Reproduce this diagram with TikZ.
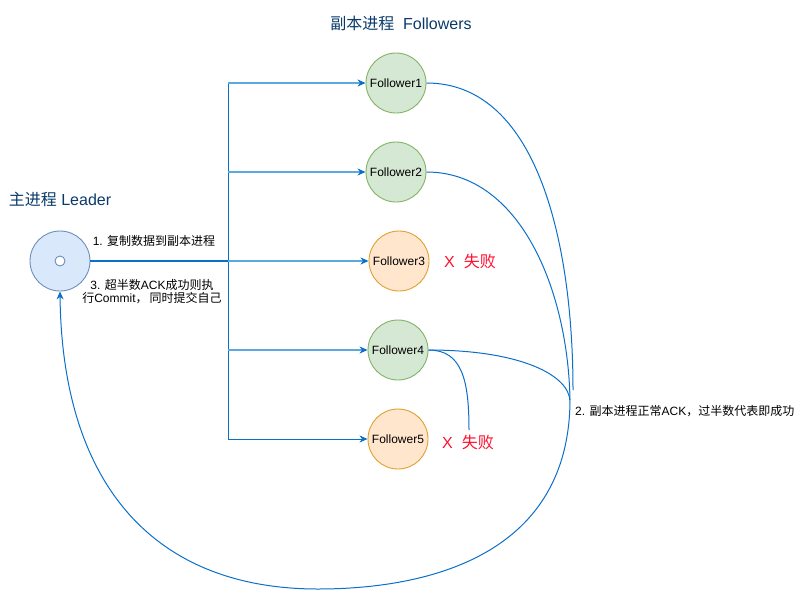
\documentclass[tikz,border=0pt]{standalone}
\usepackage{fontspec}
\setmainfont{Liberation Sans}
\newfontfamily\cjk{Noto Sans CJK SC}
\usetikzlibrary{arrows.meta}
\definecolor{edgeblue}{HTML}{0B6FC9}
\definecolor{lightedge}{HTML}{5AAAE0}
\definecolor{titleblue}{HTML}{0A3A6B}
\definecolor{gfill}{HTML}{D5E8D4}
\definecolor{gdraw}{HTML}{82B366}
\definecolor{ofill}{HTML}{FFE6CC}
\definecolor{odraw}{HTML}{E0A030}
\definecolor{bfill}{HTML}{DAE8FC}
\definecolor{bdraw}{HTML}{6C8EBF}
\definecolor{failred}{HTML}{FF1030}
\begin{document}
\begin{tikzpicture}[x=1pt,y=-1pt,
  okf/.style={circle,draw=gdraw,fill=gfill,line width=0.9pt,minimum size=60pt,inner sep=0pt,font=\fontsize{12}{14}\selectfont},
  badf/.style={circle,draw=odraw,fill=ofill,line width=0.9pt,minimum size=60pt,inner sep=0pt,font=\fontsize{12}{14}\selectfont},
  lead/.style={circle,draw=bdraw,fill=bfill,line width=0.9pt,minimum size=60pt,inner sep=0pt},
  hole/.style={circle,draw=bdraw,fill=white,line width=0.9pt,minimum size=10pt,inner sep=0pt},
  conn/.style={draw=edgeblue,line width=1pt},
  branch/.style={draw=lightedge,line width=1.2pt,-{Stealth[length=8pt,width=7pt,inset=2.5pt,color=edgeblue]}},
  branchdark/.style={draw=edgeblue,line width=1pt,-{Stealth[length=8pt,width=7pt,inset=2.5pt]}},
  small/.style={font=\fontsize{12}{13}\selectfont,text=black,inner sep=0pt},
  big/.style={font=\fontsize{16}{18}\selectfont,inner sep=0pt},
  fail/.style={font=\fontsize{16}{18}\selectfont,text=failred,inner sep=0pt}
]
\useasboundingbox (0,0) rectangle (803,600);

% nodes
\node[lead] (L) at (60,261) {};
\node[hole] (Lh) at (60,261) {};
\node[okf] (F1) at (396,83) {Follower1};
\node[okf] (F2) at (396,172) {Follower2};
\node[badf] (F3) at (399,261) {Follower3};
\node[okf] (F4) at (398,350) {Follower4};
\node[badf] (F5) at (398,439) {Follower5};

% labels
\node[big,text=titleblue] (title) at (401,23) {{\cjk 副本进程}\ \ Followers};
\node[big,text=titleblue] (ltitle) at (60,199) {{\cjk 主进程} Leader};
\node[small] (l1) at (154,241) {1. {\cjk 复制数据到副本进程}};
\node[small,align=center] (l3) at (152,292) {3. {\cjk 超半数}ACK{\cjk 成功则执}\\{\cjk 行}Commit{\cjk ，\,同时提交自己}};
\node[small,anchor=west] (l2) at (575,411) {2. {\cjk 副本进程正常}ACK{\cjk ，过半数代表即成功}};
\node[fail] (x1) at (470,261) {X\ \ {\cjk 失败}};
\node[fail] (x2) at (468,442) {X\ \ {\cjk 失败}};

% trunk coordinates
\coordinate (j1) at (228,83);
\coordinate (j2) at (228,172);
\coordinate (j3) at (228,261);
\coordinate (j4) at (228,350);
\coordinate (j5) at (228,439);

\draw[conn] (j1) -- (j5);
\draw[conn,line width=1.4pt] (L.east) -- (j3);
\draw[branch] (j1) -- (F1.west);
\draw[branch] (j2) -- (F2.west);
\draw[branch] (j3) -- (F3.west);
\draw[branch] (j4) -- (F4.west);
\draw[branchdark] (j5) -- (F5.west);

% ack curves
\coordinate (m1) at (573,390);
\coordinate (m2) at (570,400);
\coordinate (m4) at (570,402);
\coordinate (bot) at (318,589);
\coordinate (fx) at (469,430);
\draw[conn] (F1.east) .. controls (540,83) and (573,250) .. (m1);
\draw[conn] (F2.east) .. controls (520,172) and (568,290) .. (m2);
\draw[conn] (F4.east) .. controls (520,350) and (570,375) .. (m4);
\draw[conn] (F4.east) .. controls (462,350) and (469,380) .. (fx);
\draw[conn,-{Stealth[length=8pt,width=7pt,inset=2.5pt]}] (m4) .. controls (568,560) and (420,589) .. (bot) .. controls (150,589) and (62,480) .. (L.south);
\end{tikzpicture}
\end{document}
